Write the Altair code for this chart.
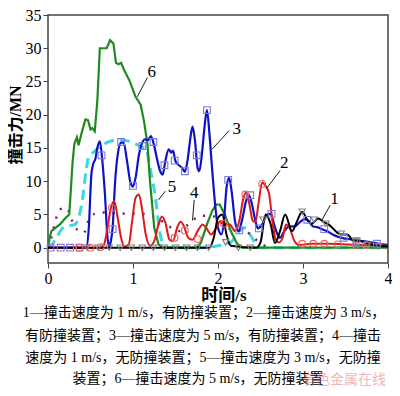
import altair as alt
import pandas as pd

# ---------------- data ----------------
# series 1: impact speed 1 m/s, with anti-collision device (black, triangles)
s1_t = [0, 0.4, 1.9, 1.95, 2.0, 2.05, 2.1, 2.15, 2.45, 2.5, 2.56, 2.62, 2.67, 2.73, 2.79, 2.87, 2.93, 2.99,
        3.05, 3.1, 3.18, 3.24, 3.3, 3.36, 3.41, 3.47, 3.52, 3.6, 3.66, 3.72, 3.8, 3.87, 4.0]
s1_v = [0, 0, 0, 1.5, 4.5, 5.0, 2.0, 0.3, 0, 0.8, 5.0, 3.5, 0.7, 2.5, 5.0, 2.5, 4.0, 5.4,
        4.2, 3.6, 4.4, 3.9, 3.5, 2.8, 2.2, 2.0, 2.0, 1.0, 1.1, 0.8, 0.5, 0.3, 0.2]
m1_t = [0.46, 0.59, 0.72, 0.85, 0.98, 1.11, 1.24, 1.37, 1.5, 1.63, 1.76, 1.89, 2.09, 2.24, 2.38,
        2.53, 2.99, 3.13, 3.27, 3.45, 3.62, 3.76, 3.89]
m1_v = [0, 0, 0, 0, 0, 0, 0, 0, 0, 0, 0, 0, 0.8, 0, 0,
        4.2, 5.4, 4.2, 3.6, 2.1, 1.0, 0.4, 0.2]

# series 2: 3 m/s, with device (red, circles)
s2_t = [0, 0.62, 0.66, 0.7, 0.74, 0.78, 0.82, 0.86, 0.9, 0.95, 0.99, 1.03, 1.07, 1.11, 1.15, 1.2, 1.25,
        1.3, 1.34, 1.38, 1.43, 1.47, 1.52, 1.56, 1.6, 1.65, 1.7, 1.76, 1.82, 1.86, 1.92, 1.98, 2.03,
        2.08, 2.14, 2.2, 2.25, 2.3, 2.33, 2.37, 2.41, 2.44, 2.48, 2.52, 2.56, 2.6, 2.64, 2.68, 2.72,
        2.76, 2.8, 2.84, 2.9, 2.95, 3.1, 3.3, 3.5, 3.7, 4.0]
s2_v = [0, 0, 0.5, 3.0, 6.0, 7.0, 4.5, 1.5, 0.2, 0.5, 4.0, 7.5, 8.0, 5.5, 2.0, 0.3, 1.0,
        3.5, 4.7, 3.8, 1.2, 1.0, 3.0, 3.9, 3.2, 1.5, 1.2, 2.5, 3.5, 3.0, 2.0, 3.0, 4.0,
        3.6, 3.5, 2.5, 4.0, 7.5, 8.3, 6.5, 4.0, 3.9, 7.0, 9.8, 9.3, 8.2, 4.0, 1.2, 0.8,
        1.5, 3.5, 3.0, 1.0, 0.4, 0.6, 0.6, 0.5, 0.4, 0.3]
m2_t = [0.37, 0.5, 0.62, 0.75, 1.49, 1.61, 1.76, 2.07, 2.32, 2.52, 2.99, 3.12, 3.25, 3.41, 3.62, 3.74]
m2_v = [0, 0, 0.1, 6.0, 1.5, 2.6, 1.3, 3.6, 8.0, 9.6, 0.6, 0.6, 0.6, 0.5, 0.4, 0.4]

# series 3: 5 m/s, with device (blue, squares)
s3_t = [0, 0.45, 0.48, 0.51, 0.53, 0.56, 0.58, 0.61, 0.64, 0.67, 0.7, 0.72, 0.74, 0.76, 0.79, 0.82,
        0.86, 0.89, 0.93, 0.97, 1.0, 1.03, 1.07, 1.1, 1.14, 1.18, 1.21, 1.24, 1.28, 1.32, 1.35, 1.38,
        1.42, 1.45, 1.47, 1.5, 1.54, 1.58, 1.61, 1.64, 1.67, 1.7, 1.73, 1.76, 1.78, 1.81, 1.84, 1.87,
        1.9, 1.93, 1.97, 2.0, 2.04, 2.07, 2.1, 2.13, 2.16, 2.2, 2.24, 2.28, 2.33, 2.36, 2.4, 2.44,
        2.47, 2.52, 2.58, 2.62, 2.66, 2.7, 2.73, 2.78, 2.84, 2.9, 2.96, 3.02, 3.07, 3.12, 3.17, 3.22,
        3.28, 3.35, 3.42, 3.48, 3.55, 3.62, 3.7, 3.8, 3.9, 4.0]
s3_v = [0, 0, 3.0, 11.0, 12.5, 13.5, 15.0, 16.0, 13.0, 8.0, 1.5, 0.2, 1.0, 3.0, 10.0, 14.0,
        15.8, 15.8, 13.0, 9.8, 9.2, 10.5, 14.0, 15.5, 16.3, 16.2, 16.8, 15.8, 13.5, 11.5, 11.0, 13.0,
        14.8, 14.3, 14.6, 13.0, 12.4, 12.0, 11.4, 13.0, 16.0, 18.2, 16.0, 12.0, 11.5, 14.0, 18.0, 20.7,
        17.0, 12.0, 6.0, 3.0, 2.0, 4.0, 9.0, 10.5, 8.5, 4.0, 2.5, 4.0, 7.0, 8.0, 6.5, 4.0,
        2.9, 3.5, 5.0, 5.1, 3.5, 2.0, 1.5, 2.5, 3.2, 3.2, 3.8, 4.3, 4.0, 3.2, 3.1, 2.8,
        2.5, 2.0, 1.6, 1.4, 1.3, 1.1, 1.0, 0.8, 0.6, 0.4]
m3_t = [0.03, 0.15, 0.26, 0.37, 0.63, 0.76, 0.86, 1.0, 1.11, 1.24, 1.37, 1.49, 1.61, 1.75, 1.87,
        2.12, 2.25, 2.38, 2.48, 2.63, 3.05, 3.25, 3.48, 3.63, 3.87]
m3_v = [0, 0, 0, 0, 13.9, 2.8, 15.9, 9.3, 15.3, 15.9, 12.4, 13.1, 11.5, 13.9, 20.7,
        10.2, 2.6, 7.9, 2.9, 5.1, 4.2, 2.8, 1.5, 1.0, 0.6]

# series 4: 1 m/s, without device (purple dotted)
s4_t = [0, 0.04, 0.09, 0.15, 0.22, 0.27, 0.32, 0.38, 0.42, 0.48, 0.55, 0.65, 0.8, 0.95, 1.1, 1.22,
        1.34, 1.45, 1.55, 1.62, 1.69, 1.77, 1.86, 1.95, 2.02, 2.09, 2.2, 2.32, 2.42, 2.52, 2.62]
s4_v = [0, 1.5, 4.2, 5.8, 6.0, 4.5, 3.0, 2.5, 2.2, 4.2, 5.1, 5.3, 5.2, 5.1, 5.1, 4.8,
        4.0, 3.0, 2.5, 3.2, 3.9, 4.7, 4.8, 4.7, 4.0, 3.2, 2.6, 2.5, 1.5, 0.5, 0]

# series 5: 3 m/s, without device (cyan dashed)
s5_t = [0, 0.05, 0.1, 0.17, 0.25, 0.32, 0.36, 0.4, 0.45, 0.48, 0.53, 0.58, 0.65, 0.73, 0.86, 1.0,
        1.09, 1.15, 1.2, 1.26, 1.32, 1.38, 1.8, 2.0, 2.15, 2.25, 2.32, 2.4, 2.48, 4.0]
s5_v = [0, 0.5, 1.5, 2.9, 3.3, 3.5, 4.5, 6.8, 11.7, 13.8, 14.3, 14.9, 15.5, 16.0, 16.2, 15.8,
        15.2, 15.0, 12.0, 7.9, 2.0, 0, 0, 0.3, 0.8, 2.5, 3.0, 1.5, 0, 0]

# series 6: 5 m/s, without device (green)
s6_t = [0, 0.02, 0.04, 0.08, 0.14, 0.2, 0.25, 0.27, 0.29, 0.31, 0.34, 0.36, 0.39, 0.44, 0.47, 0.5,
        0.52, 0.55, 0.58, 0.61, 0.69, 0.73, 0.77, 0.8, 0.83, 0.86, 0.9, 0.96, 1.03, 1.09, 1.13, 1.17,
        1.2, 1.25, 1.3, 1.35, 1.75, 1.8, 1.87, 1.93, 1.98, 2.02, 2.08, 2.15, 2.22, 2.28, 4.0]
s6_v = [0, 1.5, 2.5, 2.9, 3.5, 4.4, 5.0, 9.0, 13.0, 15.6, 16.6, 15.4, 17.0, 19.3, 19.2, 17.8,
        18.0, 17.5, 22.0, 30.0, 30.0, 31.2, 30.7, 27.8, 27.6, 27.8, 26.6, 25.1, 22.7, 21.5, 19.0, 15.6,
        10.0, 3.0, 0.5, 0, 0, 0.8, 3.5, 5.5, 6.5, 6.5, 5.0, 2.5, 0.7, 0, 0]

# annotation labels and leader lines (data coordinates)
lab_text = ["1", "2", "3", "4", "5", "6"]
lab_t = [3.37, 2.78, 2.22, 1.72, 1.46, 1.22]
lab_v = [7.4, 12.7, 17.9, 8.3, 9.1, 26.5]
lead_t1 = [3.32, 2.73, 2.13, 1.72, 1.38, 1.17]
lead_v1 = [6.4, 11.6, 17.6, 7.2, 8.5, 25.6]
lead_t2 = [3.22, 2.57, 1.93, 1.70, 1.30, 1.05]
lead_v2 = [4.1, 8.9, 14.8, 4.1, 7.2, 22.7]

x_ticks = [0, 1, 2, 3, 4]
y_ticks = [0, 5, 10, 15, 20, 25, 30, 35]

caption = [
    "1—撞击速度为 1 m/s，有防撞装置；2—撞击速度为 3 m/s，",
    "有防撞装置；3—撞击速度为 5 m/s，有防撞装置；4—撞击",
    "速度为 1 m/s，无防撞装置；5—撞击速度为 3 m/s，无防撞",
    "装置；6—撞击速度为 5 m/s，无防撞装置",
]
x_title = "时间/s"
y_title = "撞击力/MN"
watermark = "有色金属在线"

# ---------------- chart ----------------
W, H = 340, 248
SERIF = "Liberation Serif, 'Noto Sans CJK SC'"

xs = alt.Scale(domain=[0, 4], nice=False, zero=False)
ys = alt.Scale(domain=[-2.3, 35], nice=False, zero=False)

AX = alt.Axis(values=x_ticks, title=None, format="d", grid=False, domain=False,
              tickSize=5, labelPadding=2, labelOverlap=False, labelBound=False, labelFlush=False)
AY = alt.Axis(values=y_ticks, title=None, format="d", grid=False, domain=False,
              tickSize=5, labelPadding=2, labelOverlap=False, labelBound=False, labelFlush=False)


def xenc(f):
    return alt.X(f, type="quantitative", scale=xs, axis=AX)


def yenc(f):
    return alt.Y(f, type="quantitative", scale=ys, axis=AY)


def line(t, v, color, width=2.0, dash=None, interp="monotone"):
    df = pd.DataFrame({"t": t, "v": v})
    kw = dict(color=color, strokeWidth=width, interpolate=interp, clip=True)
    if dash:
        kw["strokeDash"] = dash
    return alt.Chart(df).mark_line(**kw).encode(x=xenc("t"), y=yenc("v"))


def marks(t, v, shape, color, size=45):
    df = pd.DataFrame({"t": t, "v": v})
    return alt.Chart(df).mark_point(shape=shape, color=color, filled=False, size=size,
                                    strokeWidth=1.1, opacity=1).encode(x=xenc("t"), y=yenc("v"))


layers = [
    line(s5_t, s5_v, "#3ad8e0", width=3.0, dash=[10, 6]),
    line(s4_t, s4_v, "#7a1a5a", width=2.4, dash=[2, 8]),
    line(s6_t, s6_v, "#1f8a1f", width=2.2, interp="linear"),
    line(s3_t, s3_v, "#1010c8", width=2.2),
    line(s2_t, s2_v, "#e01818", width=2.0),
    line(s1_t, s1_v, "#000000", width=2.0),
    marks(m3_t, m3_v, "square", "#7a7ae0"),
    marks(m2_t, m2_v, "circle", "#f06060"),
    marks(m1_t, m1_v, "triangle-down", "#808080", size=40),
]

ann = pd.DataFrame({"label": lab_text, "t": lab_t, "v": lab_v,
                    "t1": lead_t1, "v1": lead_v1, "t2": lead_t2, "v2": lead_v2})
layers.append(alt.Chart(ann).mark_rule(color="black", strokeWidth=0.9).encode(
    x=xenc("t1"), y=yenc("v1"), x2="t2:Q", y2="v2:Q"))
layers.append(alt.Chart(ann).mark_text(font="Liberation Serif", fontSize=17, color="black").encode(
    x=xenc("t"), y=yenc("v"), text="label:N"))

# axis titles
layers.append(alt.Chart(pd.DataFrame({"s": [x_title]})).mark_text(
    font=SERIF, fontSize=17, fontWeight="bold", color="black").encode(
    text="s:N", x=alt.value(176), y=alt.value(281)))
layers.append(alt.Chart(pd.DataFrame({"s": [y_title]})).mark_text(
    font=SERIF, fontSize=16, fontWeight="bold", color="black", angle=270).encode(
    text="s:N", x=alt.value(-32), y=alt.value(110)))

# caption
cap_x = [156, 155, 155, 150]
cap_y = [298, 321, 343, 364]
for txt, cx, cy in zip(caption, cap_x, cap_y):
    layers.append(alt.Chart(pd.DataFrame({"s": [txt]})).mark_text(
        font=SERIF, fontSize=14, color="black").encode(
        text="s:N", x=alt.value(cx), y=alt.value(cy)))

# watermark
layers.append(alt.Chart(pd.DataFrame({"s": [watermark]})).mark_text(
    font="'Noto Sans CJK SC'", fontSize=14, color="#e07070", opacity=0.5, align="left").encode(
    text="s:N", x=alt.value(254), y=alt.value(365)))

chart = alt.layer(*layers).properties(
    width=W, height=H,
    padding={"left": 40, "top": 7, "right": 4, "bottom": 125},
    autosize=alt.AutoSizeParams(type="none"),
).configure_view(stroke="#444", strokeWidth=1.5).configure_axis(
    labelFont="Liberation Serif", labelFontSize=16, labelColor="black",
    tickColor="#444", tickWidth=1,
)

chart.save("out.html", embed_options={"renderer": "svg", "actions": False})
